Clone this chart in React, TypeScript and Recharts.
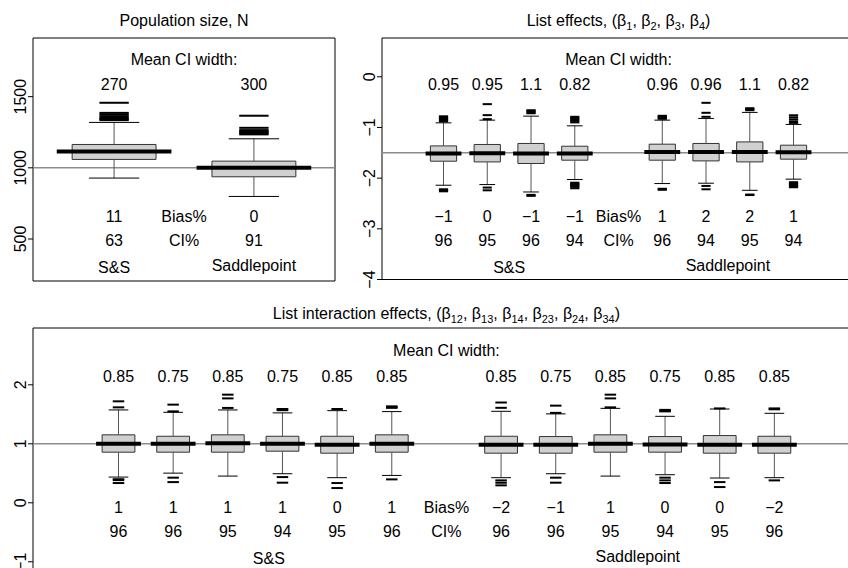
import React from 'react';
import { ComposedChart, XAxis, YAxis, Scatter, ReferenceArea, ReferenceLine } from 'recharts';

const FONT = '"Liberation Sans", Arial, Helvetica, sans-serif';

// ---- Population size, N ----
const nTitle = 'Population size, N';
const nMethods = ['S&S', 'Saddlepoint'];
const nWidth = ['270', '300'];
const nBias = ['11', '0'];
const nCover = ['63', '91'];
const nLow = [928, 799];
const nQ1 = [1059, 937];
const nMed = [1115, 1000];
const nQ3 = [1164, 1047];
const nHigh = [1319, 1204];
const nOut = [
  [1335, 1343, 1351, 1363, 1375, 1386, 1457],
  [1235, 1242, 1249, 1257, 1265, 1281, 1366],
];

// ---- List effects ----
const bTitle = 'List effects, (β_1, β_2, β_3, β_4)';
const bWidth = ['0.95', '0.95', '1.1', '0.82', '0.96', '0.96', '1.1', '0.82'];
const bBias = ['−1', '0', '−1', '−1', '1', '2', '2', '1'];
const bCover = ['96', '95', '96', '94', '96', '94', '95', '94'];
const bLow = [-2.14, -2.127, -2.273, -2.028, -2.107, -2.1, -2.24, -2.02];
const bQ1 = [-1.666, -1.68, -1.711, -1.646, -1.646, -1.66, -1.68, -1.626];
const bMed = [-1.514, -1.508, -1.514, -1.514, -1.482, -1.482, -1.482, -1.488];
const bQ3 = [-1.364, -1.336, -1.316, -1.37, -1.33, -1.316, -1.285, -1.35];
const bHigh = [-0.909, -0.856, -0.777, -0.968, -0.856, -0.822, -0.703, -0.94];
const bOut = [
  [-0.78, -0.8, -0.82, -0.84, -0.86, -0.88, -2.22, -2.24, -2.26],
  [-0.54, -0.757, -0.836, -2.186, -2.24],
  [-0.66, -0.68, -0.7, -0.72, -2.33, -2.35],
  [-0.79, -0.815, -0.84, -0.87, -0.9, -2.09, -2.11, -2.13, -2.15, -2.17, -2.2],
  [-0.77, -0.79, -0.81, -0.83, -2.21, -2.23],
  [-0.514, -0.711, -0.79, -2.154, -2.22],
  [-0.62, -0.64, -0.66, -2.324, -2.334],
  [-0.76, -0.8, -0.84, -0.88, -0.91, -2.08, -2.1, -2.12, -2.14, -2.16, -2.18],
];

// ---- List interaction effects ----
const gTitle = 'List interaction effects, (β_12, β_13, β_14, β_23, β_24, β_34)';
const gWidth = ['0.85', '0.75', '0.85', '0.75', '0.85', '0.85', '0.85', '0.75', '0.85', '0.75', '0.85', '0.85'];
const gBias = ['1', '1', '1', '1', '0', '1', '−2', '−1', '1', '0', '0', '−2'];
const gCover = ['96', '96', '95', '94', '95', '96', '96', '96', '95', '94', '95', '96'];
const gLow = [0.436, 0.503, 0.453, 0.493, 0.426, 0.464, 0.426, 0.493, 0.453, 0.476, 0.42, 0.426];
const gQ1 = [0.858, 0.858, 0.858, 0.875, 0.841, 0.858, 0.841, 0.841, 0.858, 0.858, 0.841, 0.841];
const gMed = [1.0, 1.0, 1.01, 1.0, 0.983, 1.0, 0.983, 0.983, 1.0, 0.99, 0.985, 0.983];
const gQ3 = [1.152, 1.128, 1.152, 1.128, 1.128, 1.152, 1.128, 1.123, 1.152, 1.123, 1.14, 1.128];
const gHigh = [1.574, 1.534, 1.574, 1.524, 1.562, 1.546, 1.551, 1.507, 1.601, 1.466, 1.59, 1.517];
const gOut = [
  [1.72, 1.618, 0.4, 0.385, 0.335],
  [1.664, 1.55, 0.426, 0.351],
  [1.833, 1.77, 1.608],
  [1.57, 1.58, 1.59, 0.436, 0.341],
  [1.59, 0.335, 0.25],
  [1.61, 1.62, 1.635, 0.397],
  [1.7, 1.61, 0.38, 0.34, 0.296],
  [1.647, 1.524, 0.426, 0.341],
  [1.833, 1.77, 1.618],
  [1.55, 1.56, 1.575, 0.426, 0.38, 0.335],
  [1.6, 0.351, 0.267],
  [1.585, 1.6, 0.38],
];

type Txt = { x: number; by: number; t: string; title?: boolean };

type Panel = {
  left: number; top: number; width: number; height: number;
  margin: { top: number; right: number; bottom: number; left: number };
  yWidth: number;
  xDomain: [number, number];
  yDomain: [number, number];
  yTicks: number[];
  refY: number;
  pos: number[];
  low: number[]; q1: number[]; med: number[]; q3: number[]; high: number[];
  out: number[][];
  texts: Txt[];
};

const makeTexts = (
  pos: number[], mid: number, title: string,
  widths: string[], bias: string[], cover: string[], methodX: number[],
  rows: { title: number; head: number; width: number; bias: number; cover: number; ss: number; sp: number },
): Txt[] => [
  { x: mid, by: rows.title, t: title, title: true },
  { x: mid, by: rows.head, t: 'Mean CI width:' },
  ...widths.map((t, i) => ({ x: pos[i], by: rows.width, t })),
  { x: mid, by: rows.bias, t: 'Bias%' },
  ...bias.map((t, i) => ({ x: pos[i], by: rows.bias, t })),
  { x: mid, by: rows.cover, t: 'CI%' },
  ...cover.map((t, i) => ({ x: pos[i], by: rows.cover, t })),
  { x: methodX[0], by: rows.ss, t: nMethods[0] },
  { x: methodX[1], by: rows.sp, t: nMethods[1] },
];

const topRows = { title: 26, head: 64.5, width: 89.5, bias: 221.5, cover: 245.5, ss: 272.5, sp: 270.5 };
const botRows = { title: 319, head: 355.5, width: 381.5, bias: 512.5, cover: 536.5, ss: 564, sp: 561.5 };

const nPos = [1, 2];
const bPos = [1, 2, 3, 4, 6, 7, 8, 9];
const gPos = [1, 2, 3, 4, 5, 6, 8, 9, 10, 11, 12, 13];

const panels: Panel[] = [
  {
    left: 0, top: 0, width: 337, height: 283,
    margin: { top: 38, right: 2, bottom: 2, left: 0 }, yWidth: 33,
    xDomain: [0.42, 2.58], yDomain: [205, 1912], yTicks: [500, 1000, 1500], refY: 1000,
    pos: nPos, low: nLow, q1: nQ1, med: nMed, q3: nQ3, high: nHigh, out: nOut,
    texts: makeTexts(nPos, 1.5, nTitle, nWidth, nBias, nCover, [1, 2], topRows),
  },
  {
    left: 340, top: 0, width: 530, height: 292,
    margin: { top: 38, right: 0, bottom: 12.5, left: 0 }, yWidth: 42,
    xDomain: [-0.406, 10.748], yDomain: [-4.0, 0.765], yTicks: [0, -1, -2, -3, -4], refY: -1.5,
    pos: bPos, low: bLow, q1: bQ1, med: bMed, q3: bQ3, high: bHigh, out: bOut,
    texts: makeTexts(bPos, 5, bTitle, bWidth, bBias, bCover, [2.5, 7.5], topRows),
  },
  {
    left: 0, top: 290, width: 870, height: 300,
    margin: { top: 38, right: 0, bottom: 0, left: 0 }, yWidth: 33,
    xDomain: [-0.5645, 14.75], yDomain: [-1.478, 2.963], yTicks: [2, 1, 0, -1], refY: 1,
    pos: gPos, low: gLow, q1: gQ1, med: gMed, q3: gQ3, high: gHigh, out: gOut,
    texts: makeTexts(gPos, 7, gTitle, gWidth, gBias, gCover, [3.75, 10.5], botRows),
  },
];

const fmtTick = (v: number) => (v < 0 ? `−${Math.abs(v)}` : String(v));

const YTick = (props: any) => {
  const { y, payload, lx } = props;
  return (
    <text
      transform={`translate(${lx},${y}) rotate(-90)`}
      textAnchor="middle"
      dy="0.35em"
      fontFamily={FONT}
      fontSize={16}
      fill="#000"
    >
      {fmtTick(payload.value)}
    </text>
  );
};

const Title = ({ x, y, text }: { x: number; y: number; text: string }) => {
  const parts = text.split(/_(\d+)/);
  return (
    <text x={x} y={y} textAnchor="middle" fontFamily={FONT} fontSize={16} fill="#000">
      {parts.map((s, i) =>
        i % 2 === 1 ? (
          <tspan key={i} dy={4} fontSize={11}>{s}</tspan>
        ) : (
          <tspan key={i} dy={i > 0 ? -4 : 0}>{s}</tspan>
        ),
      )}
    </text>
  );
};

function BoxPanel({ p }: { p: Panel }) {
  const plotLeft = p.margin.left + p.yWidth;
  const unit = (p.width - plotLeft - p.margin.right) / (p.xDomain[1] - p.xDomain[0]);
  const yMid = (p.yDomain[0] + p.yDomain[1]) / 2;
  const medians = p.pos.map((x, i) => ({ x, y: p.med[i] }));
  const outliers = p.out.flatMap((vals, i) => vals.map((y) => ({ x: p.pos[i], y })));
  const labels = p.texts.map((d) => ({ ...d, y: yMid }));
  const medW = 0.82 * unit;
  const outW = 0.21 * unit;

  const whiskers: React.ReactNode[] = [];
  p.pos.forEach((x, i) => {
    whiskers.push(
      <ReferenceLine key={`wu${i}`} segment={[{ x, y: p.q3[i] }, { x, y: p.high[i] }]} stroke="#555" strokeWidth={1} ifOverflow="visible" />,
      <ReferenceLine key={`wl${i}`} segment={[{ x, y: p.q1[i] }, { x, y: p.low[i] }]} stroke="#555" strokeWidth={1} ifOverflow="visible" />,
      <ReferenceLine key={`cu${i}`} segment={[{ x: x - 0.18, y: p.high[i] }, { x: x + 0.18, y: p.high[i] }]} stroke="#000" strokeWidth={1} ifOverflow="visible" />,
      <ReferenceLine key={`cl${i}`} segment={[{ x: x - 0.18, y: p.low[i] }, { x: x + 0.18, y: p.low[i] }]} stroke="#000" strokeWidth={1} ifOverflow="visible" />,
    );
  });

  return (
    <div style={{ position: 'absolute', left: p.left, top: p.top }}>
      <ComposedChart width={p.width} height={p.height} margin={p.margin}>
        <XAxis type="number" dataKey="x" domain={p.xDomain} hide />
        <YAxis
          type="number"
          dataKey="y"
          domain={p.yDomain}
          ticks={p.yTicks}
          interval={0}
          width={p.yWidth}
          axisLine={false}
          stroke="#000"
          tickSize={5}
          tickLine={{ stroke: '#000' }}
          tick={(t: any) => <YTick {...t} lx={plotLeft - 13} />}
        />
        <ReferenceArea
          x1={p.xDomain[0]} x2={p.xDomain[1]} y1={p.yDomain[0]} y2={p.yDomain[1]}
          fill="none" stroke="#000" strokeWidth={1} ifOverflow="visible"
        />
        <ReferenceLine y={p.refY} stroke="#8c8c8c" strokeWidth={1.5} ifOverflow="visible" />
        {whiskers}
        {p.pos.map((x, i) => (
          <ReferenceArea
            key={`b${i}`}
            x1={x - 0.3} x2={x + 0.3} y1={p.q1[i]} y2={p.q3[i]}
            fill="#d0d0d0" fillOpacity={1} stroke="#333" strokeWidth={1} ifOverflow="visible"
          />
        ))}
        <Scatter
          data={medians}
          isAnimationActive={false}
          shape={(s: any) => (
            <line x1={s.cx - medW / 2} x2={s.cx + medW / 2} y1={s.cy} y2={s.cy} stroke="#000" strokeWidth={4} />
          )}
        />
        <Scatter
          data={outliers}
          isAnimationActive={false}
          shape={(s: any) => (
            <line x1={s.cx - outW / 2} x2={s.cx + outW / 2} y1={s.cy} y2={s.cy} stroke="#000" strokeWidth={2} />
          )}
        />
        <Scatter
          data={labels}
          isAnimationActive={false}
          shape={(s: any) =>
            s.payload.title ? (
              <Title x={s.cx} y={s.payload.by - p.top} text={s.payload.t} />
            ) : (
              <text x={s.cx} y={s.payload.by - p.top} textAnchor="middle" fontFamily={FONT} fontSize={16} fill="#000">
                {s.payload.t}
              </text>
            )
          }
        />
      </ComposedChart>
    </div>
  );
}

export default function App() {
  return (
    <div style={{ position: 'fixed', left: 0, top: 0, width: 848, height: 568, overflow: 'hidden', background: '#fff' }}>
      {panels.map((p, i) => (
        <BoxPanel key={i} p={p} />
      ))}
    </div>
  );
}
